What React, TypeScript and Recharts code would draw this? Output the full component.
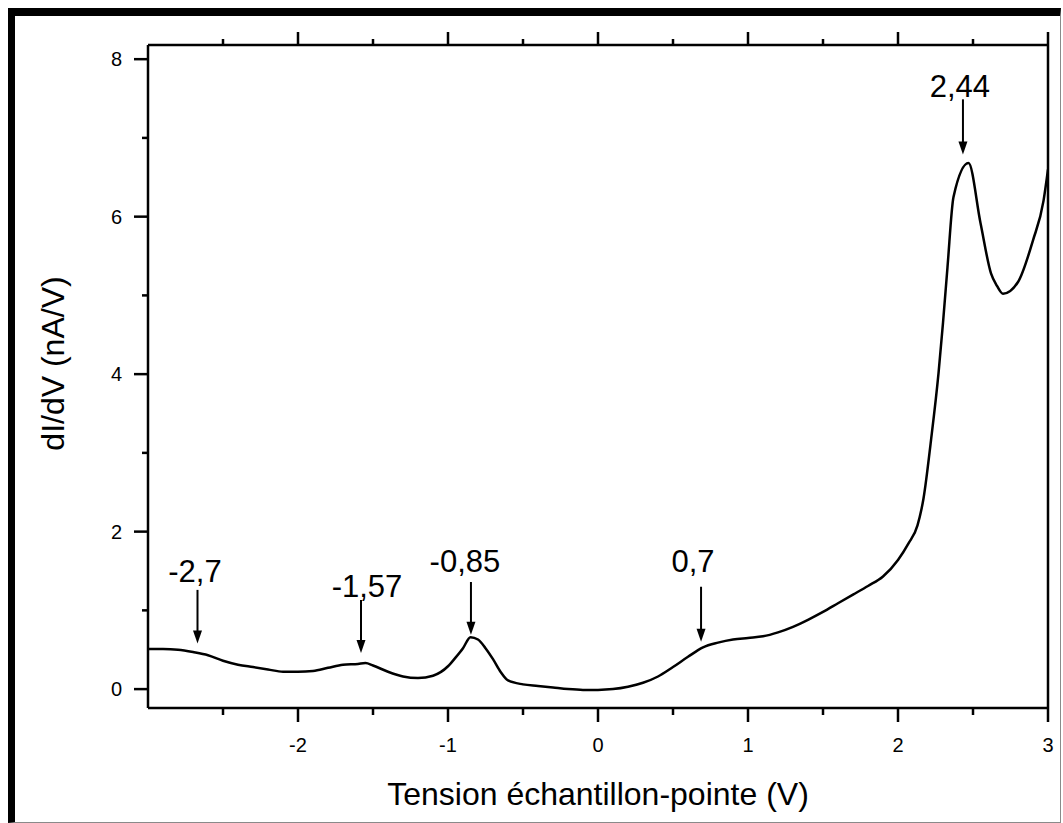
import React from 'react'
import {
    LineChart,
    Line,
    XAxis,
    YAxis,
    ReferenceLine,
    ReferenceDot
} from 'recharts'

// dI/dV spectrum
const voltage = [
    -3.0, -2.9, -2.8, -2.7, -2.6, -2.5, -2.4, -2.3, -2.2, -2.1, -2.0, -1.9, -1.8, -1.7, -1.6, -1.55,
    -1.5, -1.4, -1.3, -1.2, -1.1, -1.0, -0.95, -0.9, -0.85, -0.8, -0.75, -0.7, -0.65, -0.6, -0.5,
    -0.4, -0.3, -0.2, -0.1, 0.0, 0.1, 0.2, 0.3, 0.4, 0.5, 0.6, 0.7, 0.8, 0.9, 1.0, 1.1, 1.2, 1.3,
    1.4, 1.5, 1.6, 1.7, 1.8, 1.9, 2.0, 2.07, 2.13, 2.17, 2.22, 2.27, 2.3, 2.33, 2.37, 2.47, 2.55,
    2.62, 2.66, 2.7, 2.8, 2.9, 2.97, 3.0
]
const dIdV = [
    0.51, 0.51, 0.50, 0.47, 0.43, 0.36, 0.31, 0.28, 0.25, 0.22, 0.22, 0.23, 0.27, 0.31, 0.32, 0.33,
    0.30, 0.22, 0.16, 0.14, 0.17, 0.29, 0.40, 0.52, 0.66, 0.63, 0.52, 0.38, 0.22, 0.11, 0.06,
    0.04, 0.02, 0.0, -0.01, -0.01, 0.0, 0.03, 0.08, 0.16, 0.28, 0.41, 0.53, 0.59, 0.63, 0.65, 0.67, 0.72, 0.79,
    0.88, 0.98, 1.09, 1.20, 1.31, 1.43, 1.64, 1.85, 2.08, 2.42, 3.16, 4.01, 4.65, 5.36, 6.25, 6.68, 5.92,
    5.28, 5.12, 5.02, 5.17, 5.70, 6.20, 6.60
]

const xTicks = [-2.5, -2, -1.5, -1, -0.5, 0, 0.5, 1, 1.5, 2, 2.5, 3]
const yTicks = [0, 1, 2, 3, 4, 5, 6, 7, 8]

// arrows pointing at the features
const peakLabels = ['-2,7', '-1,57', '-0,85', '0,7', '2,44']
const arrowX = [-2.67, -1.58, -0.847, 0.687, 2.433]
const arrowTop = [1.26, 1.13, 1.36, 1.3, 7.49]
const arrowTip = [0.58, 0.46, 0.69, 0.6, 6.79]
const labelX = [-2.687, -1.54, -0.887, 0.633, 2.413]
const labelY = [1.36, 1.17, 1.49, 1.49, 7.52]

const data = voltage.map((v, i) => ({ v, g: dIdV[i] }))

const font = 'Liberation Sans, Arial, sans-serif'
const axisLine = { stroke: '#000', strokeWidth: 2.5 }

function BottomTick(props: any) {
    const { x, y, payload } = props
    const major = Number.isInteger(payload.value)
    return (
        <g>
            <line x1={x} x2={x} y1={y} y2={y + (major ? 14 : 7)} stroke="#000" strokeWidth={2.5} />
            {major && (
                <text x={x} y={y + 44} textAnchor="middle" fontSize={20} fontFamily={font} fill="#000">
                    {String(payload.value)}
                </text>
            )}
        </g>
    )
}

function TopTick(props: any) {
    const { x, y, payload } = props
    const major = Number.isInteger(payload.value)
    return <line x1={x} x2={x} y1={y} y2={y - (major ? 13 : 6)} stroke="#000" strokeWidth={2.5} />
}

function LeftTick(props: any) {
    const { x, y, payload } = props
    const major = payload.value % 2 === 0
    return (
        <g>
            <line x1={x - (major ? 14 : 6)} x2={x} y1={y} y2={y} stroke="#000" strokeWidth={2.5} />
            {major && (
                <text x={x - 26} y={y} dy="0.36em" textAnchor="end" fontSize={20} fontFamily={font} fill="#000">
                    {String(payload.value)}
                </text>
            )}
        </g>
    )
}

function Arrow(props: any) {
    const { x1, y1, x2, y2 } = props
    const top = Math.min(y1, y2)
    const tip = Math.max(y1, y2)
    return (
        <g>
            <line x1={x1} x2={x2} y1={top} y2={tip - 10} stroke="#000" strokeWidth={2} />
            <polygon points={`${x1 - 4.5},${tip - 13} ${x1 + 4.5},${tip - 13} ${x1},${tip}`} fill="#000" />
        </g>
    )
}

export default function App() {
    return (
        <div style={{ position: 'fixed', left: 0, top: 0, width: 1063, height: 823, background: '#fff' }}>
            <div
                style={{
                    position: 'absolute',
                    left: 8,
                    top: 8,
                    width: 1053,
                    height: 815,
                    boxSizing: 'border-box',
                    borderTop: '8px solid #000',
                    borderLeft: '7px solid #000',
                    borderRight: '1px solid #8a8a8a',
                    borderBottom: '1px solid #8a8a8a'
                }}
            />
            <div style={{ position: 'absolute', left: 0, top: 0 }}>
                <LineChart width={1063} height={823} data={data} margin={{ top: 25, right: 10, bottom: 55, left: 88 }}>
                    <XAxis
                        xAxisId="b"
                        dataKey="v"
                        type="number"
                        domain={[-3, 3]}
                        allowDataOverflow
                        ticks={xTicks}
                        interval={0}
                        height={60}
                        axisLine={axisLine}
                        tickLine={false}
                        tickSize={0}
                        tickMargin={0}
                        tick={BottomTick}
                        label={{
                            value: 'Tension échantillon-pointe (V)',
                            position: 'bottom',
                            offset: 14,
                            style: { fontSize: 32, fontFamily: font, fill: '#000' }
                        }}
                    />
                    <XAxis
                        xAxisId="t"
                        dataKey="v"
                        orientation="top"
                        type="number"
                        domain={[-3, 3]}
                        allowDataOverflow
                        ticks={xTicks}
                        interval={0}
                        height={20}
                        axisLine={axisLine}
                        tickLine={false}
                        tickSize={0}
                        tickMargin={0}
                        tick={TopTick}
                    />
                    <YAxis
                        yAxisId="l"
                        type="number"
                        domain={[-0.24, 8.18]}
                        allowDataOverflow
                        ticks={yTicks}
                        interval={0}
                        width={60}
                        axisLine={axisLine}
                        tickLine={false}
                        tickSize={0}
                        tickMargin={0}
                        tick={LeftTick}
                        label={{
                            value: 'dI/dV (nA/V)',
                            angle: -90,
                            position: 'center',
                            dx: -65,
                            dy: -13,
                            style: { fontSize: 32, fontFamily: font, fill: '#000' }
                        }}
                    />
                    <YAxis
                        yAxisId="r"
                        orientation="right"
                        type="number"
                        domain={[-0.24, 8.18]}
                        allowDataOverflow
                        width={5}
                        axisLine={axisLine}
                        tickLine={false}
                        tick={false}
                    />
                    <Line
                        xAxisId="b"
                        yAxisId="l"
                        dataKey="g"
                        type="monotone"
                        stroke="#000"
                        strokeWidth={2.5}
                        dot={false}
                        isAnimationActive={false}
                    />
                    {/* invisible twin so the top and right axes share the data's scales */}
                    <Line
                        xAxisId="t"
                        yAxisId="r"
                        dataKey="g"
                        stroke="none"
                        dot={false}
                        activeDot={false}
                        legendType="none"
                        isAnimationActive={false}
                    />
                    {peakLabels.map((lbl, i) => (
                        <ReferenceLine
                            key={'a' + i}
                            xAxisId="b"
                            yAxisId="l"
                            segment={[
                                { x: arrowX[i], y: arrowTop[i] },
                                { x: arrowX[i], y: arrowTip[i] }
                            ]}
                            shape={Arrow}
                        />
                    ))}
                    {peakLabels.map((lbl, i) => (
                        <ReferenceDot
                            key={'l' + i}
                            xAxisId="b"
                            yAxisId="l"
                            x={labelX[i]}
                            y={labelY[i]}
                            shape={(p: any) => (
                                <text x={p.cx} y={p.cy} textAnchor="middle" fontSize={31} fontFamily={font} fill="#000">
                                    {lbl}
                                </text>
                            )}
                        />
                    ))}
                </LineChart>
            </div>
        </div>
    )
}
